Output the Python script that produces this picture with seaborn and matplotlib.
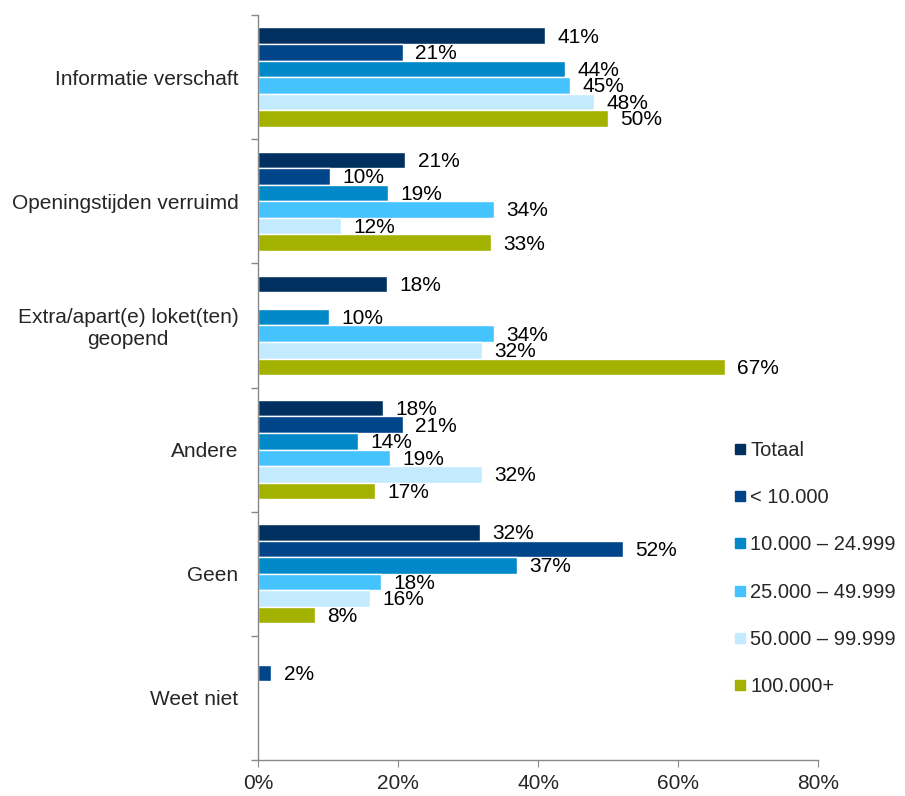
import numpy as np
import pandas as pd
import matplotlib
matplotlib.use("Agg")
import matplotlib.pyplot as plt
import seaborn as sns
from matplotlib.lines import Line2D
from matplotlib.ticker import FuncFormatter, FixedLocator

categories = ["Informatie verschaft", "Openingstijden verruimd",
              "Extra/apart(e) loket(ten)\ngeopend", "Andere", "Geen", "Weet niet"]
series = ["Totaal", "< 10.000", "10.000 \u2013 24.999", "25.000 \u2013 49.999",
          "50.000 \u2013 99.999", "100.000+"]
totaal = [41, 21, 18.4, 17.9, 31.7, 0.2]
lt_10k = [20.7, 10.3, np.nan, 20.7, 52.1, 1.9]
s_10_25k = [43.9, 18.6, 10.1, 14.3, 37.0, 0]
s_25_50k = [44.6, 33.7, 33.7, 18.9, 17.6, 0]
s_50_100k = [48.0, 11.9, 32.0, 32.0, 16.0, 0]
s_100k = [50.0, 33.3, 66.7, 16.7, 8.1, 0]
colors = ["#00305F", "#00448A", "#0088C8", "#45C3FF", "#C4EAFF", "#A3B200"]

values = [totaal, lt_10k, s_10_25k, s_25_50k, s_50_100k, s_100k]
rows = []
for s, vals in zip(series, values):
    for c, v in zip(categories, vals):
        rows.append({"cat": c, "series": s, "val": v})
df = pd.DataFrame(rows)

sns.set_style("white")
plt.rcParams["font.family"] = ["Liberation Sans", "DejaVu Sans"]
FS = 15

fig = plt.figure(figsize=(9.05, 7.96), dpi=100)
ax = fig.add_axes([258 / 905, 1 - 760 / 796, (818 - 258) / 905, (760 - 15) / 796])

sns.barplot(data=df, y="cat", x="val", hue="series", order=categories,
            hue_order=series, palette=colors, orient="h", ax=ax,
            edgecolor="white", linewidth=1, legend=False, errorbar=None,
            saturation=1)

for container in ax.containers:
    for bar in container:
        v = bar.get_width()
        if v is None or np.isnan(v) or v < 1:
            continue
        y = bar.get_y() + bar.get_height() / 2
        ax.annotate(f"{round(v):d}%", (v, y), xytext=(9, -1),
                    textcoords="offset points", ha="left", va="center",
                    fontsize=FS, color="black")

ax.set_xlim(0, 80)
ax.set_ylim(5.5, -0.5)
ax.xaxis.set_major_locator(FixedLocator([0, 20, 40, 60, 80]))
ax.xaxis.set_major_formatter(FuncFormatter(lambda x, p: f"{int(x)}%"))
ax.set_xlabel("")
ax.set_ylabel("")
ax.set_yticks(range(len(categories)))
ax.set_yticklabels(categories, ha="right")
for lab in ax.get_yticklabels():
    lab.set_multialignment("center")
ax.set_yticks(np.arange(-0.5, 6.0, 1.0), minor=True)
ax.tick_params(axis="y", which="major", length=0, pad=14, labelsize=FS)
ax.tick_params(axis="y", which="minor", length=5, direction="out", color="#888888", width=1)
ax.tick_params(axis="x", which="major", length=5, direction="out", color="#888888",
               labelsize=FS, pad=5)
ax.tick_params(axis="x", bottom=True)
ax.tick_params(axis="y", left=True, which="minor")

for sp in ["top", "right"]:
    ax.spines[sp].set_visible(False)
for sp in ["left", "bottom"]:
    ax.spines[sp].set_color("#888888")
    ax.spines[sp].set_linewidth(1)

handles = [Line2D([0], [0], marker="s", linestyle="", markersize=7,
                  markerfacecolor=c, markeredgecolor=c) for c in colors]
fig.legend(handles, series, loc="upper left", bbox_to_anchor=(721 / 905, 1 - 431 / 796),
           frameon=False, fontsize=14.5, labelspacing=1.40, handletextpad=0.05,
           handlelength=0.9, borderpad=0)

fig.savefig("out.png", dpi=100)
